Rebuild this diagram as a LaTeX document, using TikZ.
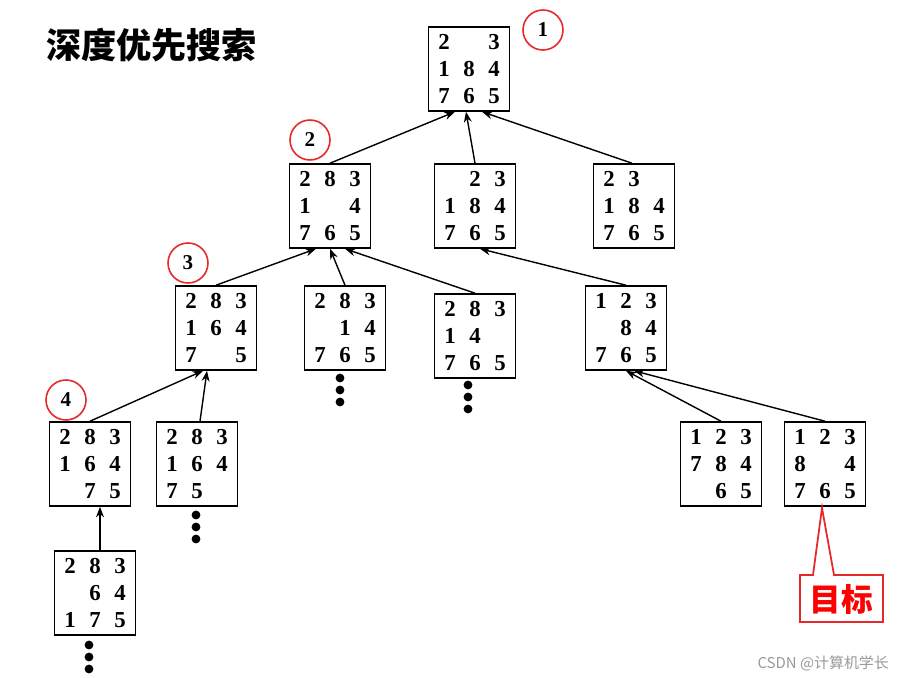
\documentclass[tikz,border=0pt]{standalone}
\usepackage{fontspec}
\setmainfont{Liberation Serif}
\newfontfamily\cjk{Noto Sans CJK SC}
\usetikzlibrary{calc,arrows.meta}
\newcommand{\cel}[1]{\makebox[0.5cm]{#1}}
\newcommand{\pz}[9]{\cel{#1}\cel{#2}\cel{#3}\\\cel{#4}\cel{#5}\cel{#6}\\\cel{#7}\cel{#8}\cel{#9}}
\definecolor{cred}{RGB}{230,40,40}
\tikzset{
 pbox/.style={draw,line width=0.9pt,minimum width=1.62cm,minimum height=1.68cm,align=center,inner sep=0pt,
   font=\fontsize{13}{15.6}\selectfont\bfseries},
 arr/.style={-{Stealth[length=6pt,width=4.5pt]},line width=0.8pt},
 num/.style={draw=cred,circle,line width=0.9pt,minimum size=0.8cm,font=\bfseries\fontsize{12}{14}\selectfont},
 dot/.style={fill,circle,inner sep=0pt,minimum size=5pt}
}
\begin{document}
\begin{tikzpicture}[x=0.02cm,y=-0.02cm]
\useasboundingbox[fill=white] (0,0) rectangle (899,678);
\node[font=\cjk\bfseries\fontsize{20}{24}\selectfont,anchor=west] (title) at (40,45) {深度优先搜索};
\node[pbox] (r) at (469,69) {\pz{2}{}{3}{1}{8}{4}{7}{6}{5}};
\node[pbox] (A) at (330,206) {\pz{2}{8}{3}{1}{}{4}{7}{6}{5}};
\node[pbox] (B) at (475,206) {\pz{}{2}{3}{1}{8}{4}{7}{6}{5}};
\node[pbox] (C) at (634,206) {\pz{2}{3}{}{1}{8}{4}{7}{6}{5}};
\node[pbox] (D) at (216,328) {\pz{2}{8}{3}{1}{6}{4}{7}{}{5}};
\node[pbox] (E) at (345,328) {\pz{2}{8}{3}{}{1}{4}{7}{6}{5}};
\node[pbox] (F) at (475,336) {\pz{2}{8}{3}{1}{4}{}{7}{6}{5}};
\node[pbox] (G) at (626,328) {\pz{1}{2}{3}{}{8}{4}{7}{6}{5}};
\node[pbox] (H) at (90,464) {\pz{2}{8}{3}{1}{6}{4}{}{7}{5}};
\node[pbox] (I) at (197,464) {\pz{2}{8}{3}{1}{6}{4}{7}{5}{}};
\node[pbox] (J) at (721,464) {\pz{1}{2}{3}{7}{8}{4}{}{6}{5}};
\node[pbox] (K) at (825,464) {\pz{1}{2}{3}{8}{}{4}{7}{6}{5}};
\node[pbox] (L) at (95,593) {\pz{2}{8}{3}{}{6}{4}{1}{7}{5}};
\node[num] (n1) at (543,30) {1};
\node[num] (n2) at (310,140) {2};
\node[num] (n3) at (188,263) {3};
\node[num] (n4) at (66,400) {4};
\draw[arr] (A.north) -- ($(r.south)+(-14,0)$);
\draw[arr] (B.north) -- ($(r.south)+(-3,0)$);
\draw[arr] ($(C.north)+(-2,0)$) -- ($(r.south)+(13,0)$);
\draw[arr] (D.north) -- ($(A.south)+(-14,0)$);
\draw[arr] (E.north) -- ($(A.south)+(0,0)$);
\draw[arr] (F.north) -- ($(A.south)+(15,0)$);
\draw[arr] (G.north) -- ($(B.south)+(5,0)$);
\draw[arr] (H.north) -- ($(D.south)+(-13,0)$);
\draw[arr] ($(I.north)+(3,0)$) -- ($(D.south)+(-9,0)$);
\draw[arr] (J.north) -- ($(G.south)+(0,0)$);
\draw[arr] (K.north) -- ($(G.south)+(8,0)$);
\draw[arr] ($(L.north)+(5,0)$) -- ($(H.south)+(10,0)$);
\foreach \n/\x/\y in {e/340/378,f/468/385,i/196/515,l/89/645}{
  \foreach \k in {0,1,2}{\node[dot] (d\n\k) at (\x,\y+12*\k) {};}}
\coordinate (tip) at (822,508);
\draw[cred,line width=1pt,fill=white] (800,575) -- (813,575) -- (tip) -- (834,575) -- (883,575) -- (883,622) -- (800,622) -- cycle;
\node[text=red,font=\cjk\bfseries\fontsize{18}{20}\selectfont] (goal) at (841,599) {目标};
\node[text=gray!80,font=\cjk\fontsize{8.5}{10}\selectfont,anchor=east] (wm) at (895,663) {CSDN @计算机学长};
\end{tikzpicture}
\end{document}
